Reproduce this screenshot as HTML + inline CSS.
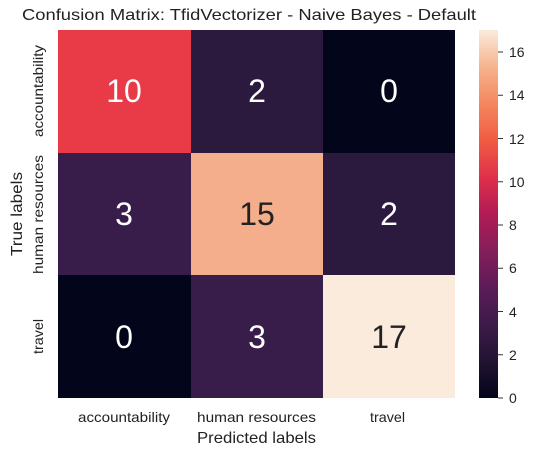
<!DOCTYPE html>
<html><head><style>
body{margin:0;background:#fff;width:538px;height:457px;overflow:hidden;font-family:"Liberation Sans",Arial,sans-serif;}
</style></head><body>
<svg width="538" height="457" xmlns="http://www.w3.org/2000/svg" font-family="Liberation Sans, Arial, sans-serif">
<defs>
<linearGradient id="cb" x1="0" y1="1" x2="0" y2="0">
<stop offset="0" stop-color="#03051a"/>
<stop offset="0.1" stop-color="#221331"/>
<stop offset="0.2" stop-color="#3d1a4a"/>
<stop offset="0.3" stop-color="#5c1c57"/>
<stop offset="0.4" stop-color="#841e5a"/>
<stop offset="0.5" stop-color="#b11b55"/>
<stop offset="0.6" stop-color="#e0304a"/>
<stop offset="0.7" stop-color="#f05c43"/>
<stop offset="0.8" stop-color="#f4875e"/>
<stop offset="0.9" stop-color="#f6b48e"/>
<stop offset="1" stop-color="#faebdd"/>
</linearGradient>
</defs>
<text x="22" y="20" font-size="16" textLength="454" lengthAdjust="spacingAndGlyphs" fill="#222">Confusion Matrix: TfidVectorizer - Naive Bayes - Default</text>
<rect x="58" y="30" width="133" height="123" fill="#e83b47"/>
<rect x="191" y="30" width="132" height="123" fill="#2b1a3d"/>
<rect x="323" y="30" width="132" height="123" fill="#03051a"/>
<rect x="58" y="153" width="133" height="122" fill="#381d4b"/>
<rect x="191" y="153" width="132" height="122" fill="#f5ae8c"/>
<rect x="323" y="153" width="132" height="122" fill="#2b1a3d"/>
<rect x="58" y="275" width="133" height="123" fill="#03051a"/>
<rect x="191" y="275" width="132" height="123" fill="#381d4b"/>
<rect x="323" y="275" width="132" height="123" fill="#faebdd"/>
<g font-size="32" text-anchor="middle">
<text x="124" y="102" fill="#fff">10</text>
<text x="257" y="102" fill="#fff">2</text>
<text x="389" y="102" fill="#fff">0</text>
<text x="124" y="225" fill="#fff">3</text>
<text x="257" y="225" fill="#222">15</text>
<text x="389" y="225" fill="#fff">2</text>
<text x="124" y="348" fill="#fff">0</text>
<text x="257" y="348" fill="#fff">3</text>
<text x="389" y="348" fill="#222">17</text>
</g>
<g font-size="14" fill="#222">
<text x="78" y="422" textLength="92" lengthAdjust="spacingAndGlyphs">accountability</text>
<text x="197" y="422" textLength="119" lengthAdjust="spacingAndGlyphs">human resources</text>
<text x="370" y="422" textLength="35" lengthAdjust="spacingAndGlyphs">travel</text>
<text x="197" y="443" font-size="16" textLength="119" lengthAdjust="spacingAndGlyphs">Predicted labels</text>
<text transform="translate(43,137) rotate(-90)" textLength="92" lengthAdjust="spacingAndGlyphs">accountability</text>
<text transform="translate(43,274) rotate(-90)" textLength="119" lengthAdjust="spacingAndGlyphs">human resources</text>
<text transform="translate(43,354) rotate(-90)" textLength="35" lengthAdjust="spacingAndGlyphs">travel</text>
<text transform="translate(22,256) rotate(-90)" font-size="16" textLength="84" lengthAdjust="spacingAndGlyphs">True labels</text>
</g>
<rect x="479" y="30" width="19" height="368" fill="url(#cb)"/>
<g stroke="#333" stroke-width="1">
<line x1="498" y1="398" x2="503" y2="398"/><line x1="498" y1="354.75" x2="503" y2="354.75"/>
<line x1="498" y1="311.5" x2="503" y2="311.5"/><line x1="498" y1="268.25" x2="503" y2="268.25"/>
<line x1="498" y1="225" x2="503" y2="225"/><line x1="498" y1="181.75" x2="503" y2="181.75"/>
<line x1="498" y1="138.5" x2="503" y2="138.5"/><line x1="498" y1="95.25" x2="503" y2="95.25"/>
<line x1="498" y1="52" x2="503" y2="52"/>
</g>
<g font-size="14" fill="#222">
<text x="509" y="403">0</text><text x="509" y="360">2</text><text x="509" y="317">4</text>
<text x="509" y="273">6</text><text x="509" y="230">8</text><text x="509" y="187">10</text>
<text x="509" y="144">12</text><text x="509" y="100">14</text><text x="509" y="57">16</text>
</g>
</svg>
</body></html>
